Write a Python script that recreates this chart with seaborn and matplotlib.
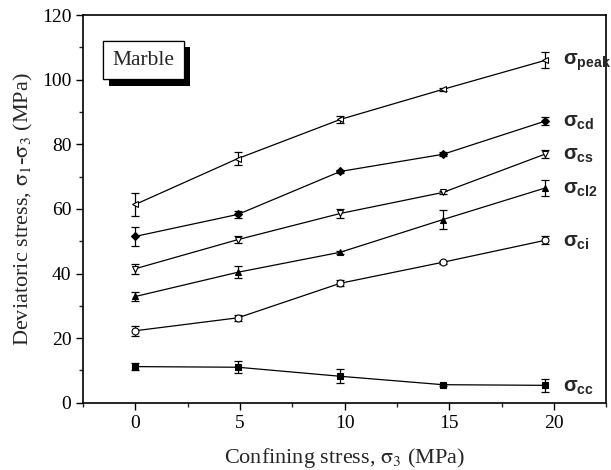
import numpy as np
import pandas as pd
import matplotlib
matplotlib.use("Agg")
import matplotlib.pyplot as plt
import matplotlib.patheffects as pe
from matplotlib.ticker import MultipleLocator
import seaborn as sns

# Confining stress levels (MPa)
confining = [0.0, 4.9, 9.8, 14.7, 19.6]

# Deviatoric stress thresholds (MPa) and their error-bar half widths
peak = [61.4, 75.6, 87.7, 97.0, 106.0]
peak_err = [3.5, 2.0, 1.0, 0.5, 2.5]
cd = [51.5, 58.3, 71.6, 76.9, 87.2]
cd_err = [3.0, 1.2, 0.5, 0.6, 1.2]
cs = [41.5, 50.5, 58.6, 65.1, 77.0]
cs_err = [1.5, 1.0, 1.5, 0.5, 1.2]
ci2 = [32.9, 40.4, 46.6, 56.7, 66.5]
ci2_err = [1.3, 1.8, 0.5, 3.0, 2.4]
ci = [22.3, 26.3, 37.0, 43.5, 50.3]
ci_err = [1.5, 1.0, 1.0, 0.5, 1.2]
cc = [11.2, 11.0, 8.2, 5.6, 5.4]
cc_err = [1.0, 1.8, 2.2, 0.3, 2.0]

series_names = ["peak", "cd", "cs", "cl2", "ci", "cc"]
series_vals = [peak, cd, cs, ci2, ci, cc]
series_errs = [peak_err, cd_err, cs_err, ci2_err, ci_err, cc_err]
markers = ["<", "D", "v", "^", "o", "s"]
filled = [False, True, False, True, False, True]
marker_sizes = [5, 4, 5, 5, 5, 4.5]

rows = []
for name, vals, errs in zip(series_names, series_vals, series_errs):
    for x, y, e in zip(confining, vals, errs):
        rows.append({"series": name, "x": x, "y": y, "err": e})
df = pd.DataFrame(rows)

sns.set_style("ticks")
plt.rcParams["font.family"] = ["Liberation Serif", "DejaVu Serif"]
plt.rcParams["mathtext.fontset"] = "custom"
plt.rcParams["mathtext.rm"] = "Liberation Sans:bold"
plt.rcParams["mathtext.it"] = "Liberation Sans:bold"
plt.rcParams["mathtext.bf"] = "Liberation Sans:bold"

fig = plt.figure(figsize=(6.11, 4.70), dpi=100)
ax = fig.add_axes([0.136, 0.143, 0.856, 0.825])

for name, mk, fl, ms in zip(series_names, markers, filled, marker_sizes):
    sub = df[df["series"] == name]
    ax.errorbar(sub["x"], sub["y"], yerr=sub["err"], fmt="none",
                ecolor="black", elinewidth=0.9, capsize=3.2, capthick=0.9,
                zorder=2)
    sns.lineplot(data=sub, x="x", y="y", ax=ax, color="black",
                 linewidth=0.9, marker=mk, markersize=ms,
                 markerfacecolor="black" if fl else "white",
                 markeredgecolor="black", markeredgewidth=0.8,
                 estimator=None, sort=False, legend=False, zorder=3)
    last = sub["y"].iloc[-1]
    ax.text(20.45, last - 0.6, r"$\sigma_{\mathrm{%s}}$" % name, fontsize=14.5,
            ha="left", va="center", math_fontfamily="custom")

ax.set_xlim(-2.5, 22.5)
ax.set_ylim(0, 120)
ax.xaxis.set_major_locator(MultipleLocator(5))
ax.xaxis.set_minor_locator(MultipleLocator(2.5))
ax.yaxis.set_major_locator(MultipleLocator(20))
ax.yaxis.set_minor_locator(MultipleLocator(10))
ax.tick_params(axis="both", which="major", direction="out", length=5,
               width=1, labelsize=14, colors="black")
ax.tick_params(axis="x", which="major", pad=4)
ax.tick_params(axis="both", which="minor", direction="out", length=3,
               width=1)
for sp in ax.spines.values():
    sp.set_linewidth(1.2)
    sp.set_color("black")

ax.set_xlabel(r"Confining stress, $\mathrm{\sigma}_3$ (MPa)", fontsize=16,
              labelpad=10, math_fontfamily="stix")
ax.set_ylabel(r"Deviatoric stress, $\mathrm{\sigma}_1$-$\mathrm{\sigma}_3$ (MPa)",
              fontsize=16, labelpad=5, math_fontfamily="stix")

# Material tag with a drop shadow
tag = ax.text(-1.1, 106.0, "Marble", fontsize=15.5, ha="left", va="center",
              bbox=dict(boxstyle="square,pad=0.45", facecolor="white",
                        edgecolor="black", linewidth=0.9))
tag.get_bbox_patch().set_path_effects(
    [pe.withSimplePatchShadow(offset=(4.5, -4.5), shadow_rgbFace="black",
                              alpha=1.0), pe.Normal()])

fig.savefig("out.png", dpi=100)
